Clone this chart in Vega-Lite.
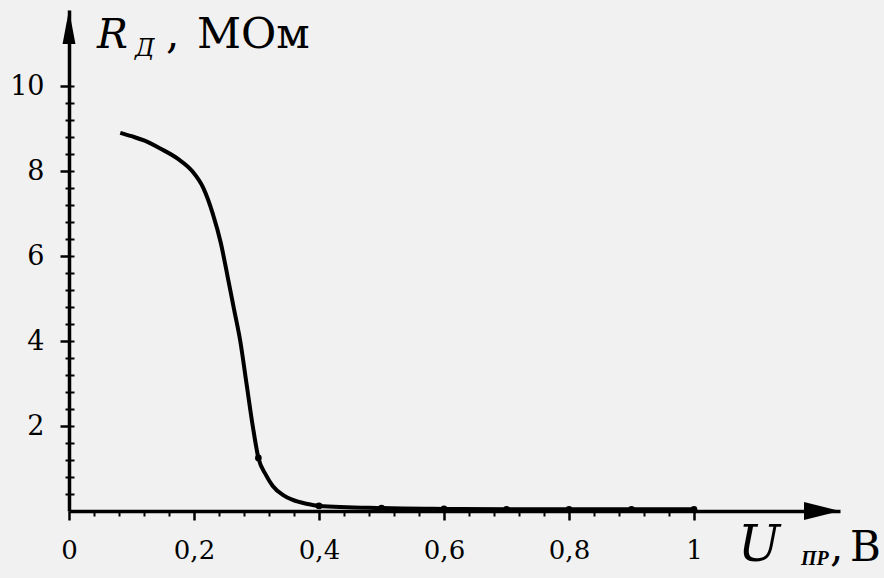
{
  "$schema": "https://vega.github.io/schema/vega-lite/v6.json",
  "width": 771,
  "height": 501,
  "autosize": "none",
  "padding": {"left": 69, "top": 10, "right": 44, "bottom": 67},
  "background": "#f1f1f1",
  "config": {"view": {"stroke": null}, "font": "DejaVu Serif", "axis": {"labelOverlap": false, "grid": false, "title": null}},
  "data": {"values": [{}]},
  "datasets": {
    "curve": [
      {"u": 0.082, "r": 8.9},
      {"u": 0.10, "r": 8.82},
      {"u": 0.12, "r": 8.72},
      {"u": 0.146, "r": 8.53},
      {"u": 0.175, "r": 8.28},
      {"u": 0.197, "r": 8.0},
      {"u": 0.215, "r": 7.6},
      {"u": 0.23, "r": 7.0},
      {"u": 0.243, "r": 6.3},
      {"u": 0.254, "r": 5.5},
      {"u": 0.264, "r": 4.75},
      {"u": 0.274, "r": 4.0},
      {"u": 0.284, "r": 3.0},
      {"u": 0.294, "r": 2.0},
      {"u": 0.303, "r": 1.25},
      {"u": 0.315, "r": 0.85},
      {"u": 0.326, "r": 0.59},
      {"u": 0.342, "r": 0.38},
      {"u": 0.358, "r": 0.26},
      {"u": 0.38, "r": 0.17},
      {"u": 0.40, "r": 0.12},
      {"u": 0.5, "r": 0.07},
      {"u": 0.6, "r": 0.05},
      {"u": 0.7, "r": 0.04},
      {"u": 0.8, "r": 0.04},
      {"u": 0.9, "r": 0.04},
      {"u": 1.0, "r": 0.04}
    ],
    "dots": [
      {"u": 0.303, "r": 1.25},
      {"u": 0.4, "r": 0.12},
      {"u": 0.5, "r": 0.07},
      {"u": 0.6, "r": 0.05},
      {"u": 0.7, "r": 0.04},
      {"u": 0.8, "r": 0.04},
      {"u": 0.9, "r": 0.04},
      {"u": 1.0, "r": 0.04}
    ]
  },
  "encoding": {
    "x": {"type": "quantitative", "scale": {"domain": [0, 1.2336], "nice": false, "zero": false}},
    "y": {"type": "quantitative", "scale": {"domain": [0, 11.79], "nice": false, "zero": false}}
  },
  "resolve": {"axis": {"x": "independent", "y": "independent"}},
  "layer": [
    {
      "data": {"name": "curve"},
      "mark": {"type": "line", "color": "black", "strokeWidth": 4, "interpolate": "monotone"},
      "encoding": {
        "x": {
          "field": "u", "type": "quantitative",
          "axis": {
            "orient": "bottom",
            "values": [0, 0.2, 0.4, 0.6, 0.8, 1.0],
            "domain": true, "domainColor": "black", "domainWidth": 3.5,
            "ticks": true, "tickColor": "black", "tickWidth": 2.5, "tickSize": 9,
            "labelExpr": "replace(toString(datum.value), '.', ',')",
            "labelFont": "DejaVu Serif", "labelFontSize": 26, "labelColor": "black",
            "labelBaseline": "alphabetic", "labelPadding": 38,
            "labelFlush": false, "labelOverlap": false
          }
        },
        "y": {
          "field": "r", "type": "quantitative",
          "axis": {
            "orient": "left",
            "values": [2, 4, 6, 8, 10],
            "domain": true, "domainColor": "black", "domainWidth": 3.5,
            "ticks": true, "tickColor": "black", "tickWidth": 2.5, "tickSize": 9,
            "labelFont": "DejaVu Serif", "labelFontSize": 27, "labelColor": "black",
            "labelPadding": 16, "labelFlush": false, "labelOverlap": false
          }
        }
      }
    },
    {
      "data": {"name": "dots"},
      "mark": {"type": "point", "filled": true, "color": "black", "size": 45, "opacity": 1},
      "encoding": {
        "x": {
          "field": "u", "type": "quantitative",
          "axis": {
            "orient": "bottom",
            "values": [0.04, 0.08, 0.12, 0.16, 0.24, 0.28, 0.32, 0.36, 0.44, 0.48, 0.52, 0.56, 0.64, 0.68, 0.72, 0.76, 0.84, 0.88, 0.92, 0.96],
            "domain": false, "labels": false,
            "ticks": true, "tickColor": "black", "tickWidth": 2, "tickSize": 5
          }
        },
        "y": {
          "field": "r", "type": "quantitative",
          "axis": {
            "orient": "left",
            "values": [0.4, 0.8, 1.2, 1.6, 2.4, 2.8, 3.2, 3.6, 4.4, 4.8, 5.2, 5.6, 6.4, 6.8, 7.2, 7.6, 8.4, 8.8, 9.2, 9.6],
            "domain": false, "labels": false,
            "ticks": true, "tickColor": "black", "tickWidth": 2, "tickSize": 4
          }
        }
      }
    },
    {
      "mark": {"type": "point", "shape": "M0,-1L0.38,1L-0.38,1Z", "filled": true, "color": "black", "size": 1156, "opacity": 1},
      "encoding": {
        "x": {"datum": 0, "type": "quantitative", "axis": null},
        "y": {
          "datum": 11.39, "type": "quantitative",
          "axis": {
            "orient": "right", "offset": -771,
            "values": [0.4, 0.8, 1.2, 1.6, 2, 2.4, 2.8, 3.2, 3.6, 4, 4.4, 4.8, 5.2, 5.6, 6, 6.4, 6.8, 7.2, 7.6, 8, 8.4, 8.8, 9.2, 9.6, 10],
            "domain": false, "labels": false,
            "ticks": true, "tickColor": "black", "tickWidth": 2, "tickSize": 5
          }
        }
      }
    },
    {
      "mark": {"type": "point", "shape": "M1,0L-1,-0.5L-1,0.5Z", "filled": true, "color": "black", "size": 1296, "opacity": 1},
      "encoding": {
        "x": {"datum": 1.2048, "type": "quantitative", "axis": null},
        "y": {"datum": 0, "type": "quantitative", "axis": null}
      }
    },
    {
      "mark": {"type": "text", "text": "R", "font": "DejaVu Serif", "fontStyle": "italic", "fontSize": 41, "align": "left", "baseline": "alphabetic", "color": "black"},
      "encoding": {
        "x": {"datum": 0.0448, "type": "quantitative", "axis": null},
        "y": {"datum": 10.894, "type": "quantitative", "axis": null}
      }
    },
    {
      "mark": {"type": "text", "text": "Д", "font": "DejaVu Serif", "fontStyle": "italic", "fontSize": 24, "align": "left", "baseline": "alphabetic", "color": "black"},
      "encoding": {
        "x": {"datum": 0.1056, "type": "quantitative", "axis": null},
        "y": {"datum": 10.706, "type": "quantitative", "axis": null}
      }
    },
    {
      "mark": {"type": "text", "text": ",", "font": "DejaVu Serif", "fontSize": 42, "align": "left", "baseline": "alphabetic", "color": "black"},
      "encoding": {
        "x": {"datum": 0.1552, "type": "quantitative", "axis": null},
        "y": {"datum": 10.894, "type": "quantitative", "axis": null}
      }
    },
    {
      "mark": {"type": "text", "text": "МОм", "font": "DejaVu Serif", "fontSize": 43, "align": "left", "baseline": "alphabetic", "color": "black"},
      "encoding": {
        "x": {"datum": 0.2048, "type": "quantitative", "axis": null},
        "y": {"datum": 10.894, "type": "quantitative", "axis": null}
      }
    },
    {
      "mark": {"type": "text", "text": "U", "font": "DejaVu Serif", "fontStyle": "italic", "fontSize": 50, "align": "left", "baseline": "alphabetic", "color": "black"},
      "encoding": {
        "x": {"datum": 1.0704, "type": "quantitative", "axis": null},
        "y": {"datum": -1.176, "type": "quantitative", "axis": null}
      }
    },
    {
      "mark": {"type": "text", "text": "ПР", "font": "Liberation Serif", "fontStyle": "italic", "fontWeight": "bold", "fontSize": 20, "align": "left", "baseline": "alphabetic", "color": "black"},
      "encoding": {
        "x": {"datum": 1.1712, "type": "quantitative", "axis": null},
        "y": {"datum": -1.27, "type": "quantitative", "axis": null}
      }
    },
    {
      "mark": {"type": "text", "text": ",", "font": "DejaVu Serif", "fontSize": 42, "align": "left", "baseline": "alphabetic", "color": "black"},
      "encoding": {
        "x": {"datum": 1.2176, "type": "quantitative", "axis": null},
        "y": {"datum": -1.176, "type": "quantitative", "axis": null}
      }
    },
    {
      "mark": {"type": "text", "text": "В", "font": "DejaVu Serif", "fontSize": 42, "align": "left", "baseline": "alphabetic", "color": "black"},
      "encoding": {
        "x": {"datum": 1.2496, "type": "quantitative", "axis": null},
        "y": {"datum": -1.176, "type": "quantitative", "axis": null}
      }
    }
  ]
}
